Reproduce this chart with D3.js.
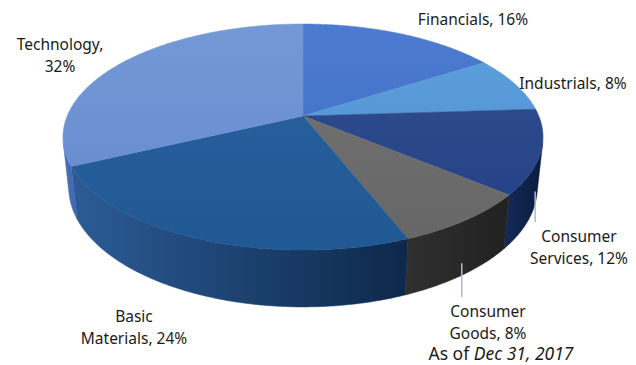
<!DOCTYPE html>
<html>
<head>
<meta charset="utf-8">
<script src="https://cdn.jsdelivr.net/npm/d3@7"></script>
<style>
  html, body { margin: 0; padding: 0; background: #fff; }
  svg { display: block; }
  text { font-family: "Noto Sans", "DejaVu Sans", sans-serif; fill: #1a1a1a; }
</style>
</head>
<body>
<div id="chart"></div>
<script>
// data
var sectors = ["Financials", "Industrials", "Consumer Services", "Consumer Goods", "Basic Materials", "Technology"];
var shares = [16, 8, 12, 8, 24, 32];
var labelLines = [
  ["Financials, 16%"],
  ["Industrials, 8%"],
  ["Consumer", "Services, 12%"],
  ["Consumer", "Goods, 8%"],
  ["Basic", "Materials, 24%"],
  ["Technology,", "32%"]
];
var asOfDate = "Dec 31, 2017";

// styles
var topColors = [["#4c7bd0", "#3c6bc4"], ["#5fa0dc", "#4a8bd2"], ["#34508f", "#203f84"],
                 ["#747474", "#666666"], ["#2a63a0", "#1f5893"], ["#7598d6", "#6388cd"]];
var sideColors = [["#2a56a8", "#1d4590"], ["#3a78bd", "#2a62a4"], ["#142a58", "#0c1b3d"],
                  ["#303030", "#212121"], ["#2c5c96", "#0d284a"], ["#4a72ba", "#3f66b0"]];
// label layout (text anchor centre x, first baseline y)
var labelPos = [[473, 25], [573, 89], [579, 242], [488, 317], [134, 322], [60, 50]];
var leaderEnd = [null, null, 222, 297, null, null];

var width = 636, height = 365;
var cx = 303, cy = 116, f = 1124, D = 4.766, tilt = Math.asin(0.4627), thick = 0.243;

function project(theta, r, y) {
  var X = r * Math.sin(theta), Z = r * Math.cos(theta);
  var up = y * Math.cos(tilt) + Z * Math.sin(tilt);
  var depth = D + Z * Math.cos(tilt) - y * Math.sin(tilt);
  return [cx + f * X / depth, cy - f * up / depth];
}

function arcPts(a0, a1, y) {
  var n = Math.max(2, Math.ceil((a1 - a0) / 0.01));
  return d3.range(n + 1).map(function (i) { return project(a0 + (a1 - a0) * i / n, 1, y); });
}

var pie = d3.pie().sort(null).value(function (d) { return d; }).startAngle(0).endAngle(2 * Math.PI);
var arcs = pie(shares);

var svg = d3.select("#chart").append("svg")
  .attr("width", width)
  .attr("height", height);

var defs = svg.append("defs");
var line = d3.line();

// visible part of the cylinder wall
var visA = Math.acos(-1 / (D * Math.cos(tilt)));
var visB = 2 * Math.PI - visA;

arcs.forEach(function (a, i) {
  var s = Math.max(a.startAngle, visA), e = Math.min(a.endAngle, visB);
  if (e <= s) return;
  var topPts = arcPts(s, e, 0);
  var botPts = arcPts(s, e, -thick).reverse();
  var pts = topPts.concat(botPts);
  var xs = pts.map(function (p) { return p[0]; });
  var g = defs.append("linearGradient")
    .attr("id", "side" + i)
    .attr("gradientUnits", "userSpaceOnUse")
    .attr("x1", d3.min(xs)).attr("x2", d3.max(xs))
    .attr("y1", 0).attr("y2", 0);
  g.append("stop").attr("offset", "0%").attr("stop-color", sideColors[i][0]);
  g.append("stop").attr("offset", "100%").attr("stop-color", sideColors[i][1]);
  svg.append("path")
    .attr("d", line(pts) + "Z")
    .attr("fill", "url(#side" + i + ")")
    .attr("stroke", "url(#side" + i + ")")
    .attr("stroke-width", 0.5);
});

arcs.forEach(function (a, i) {
  var pts = [project(0, 0, 0)].concat(arcPts(a.startAngle, a.endAngle, 0));
  var g = defs.append("linearGradient")
    .attr("id", "top" + i)
    .attr("gradientUnits", "userSpaceOnUse")
    .attr("x1", 0).attr("x2", 0)
    .attr("y1", 24).attr("y2", 250);
  g.append("stop").attr("offset", "0%").attr("stop-color", topColors[i][0]);
  g.append("stop").attr("offset", "100%").attr("stop-color", topColors[i][1]);
  svg.append("path")
    .attr("d", line(pts) + "Z")
    .attr("fill", "url(#top" + i + ")")
    .attr("stroke", "url(#top" + i + ")")
    .attr("stroke-width", 0.5);
});

// leader lines
arcs.forEach(function (a, i) {
  if (leaderEnd[i] == null) return;
  var p = project((a.startAngle + a.endAngle) / 2, 1, -thick);
  svg.append("line")
    .attr("x1", p[0]).attr("x2", p[0])
    .attr("y1", p[1] - 12).attr("y2", leaderEnd[i])
    .attr("stroke", "#a9bbd3")
    .attr("stroke-width", 1.5);
});

// labels
labelLines.forEach(function (lines, i) {
  var t = svg.append("text")
    .attr("text-anchor", "middle")
    .style("font-size", "15.5px");
  lines.forEach(function (s, j) {
    t.append("tspan")
      .attr("x", labelPos[i][0])
      .attr("y", labelPos[i][1] + j * 22)
      .text(s);
  });
});

var note = svg.append("text")
  .attr("x", 501)
  .attr("y", 360)
  .attr("text-anchor", "middle")
  .style("font-size", "17.5px");
note.append("tspan").text("As of ");
note.append("tspan").style("font-style", "italic").text(asOfDate);
</script>
</body>
</html>
